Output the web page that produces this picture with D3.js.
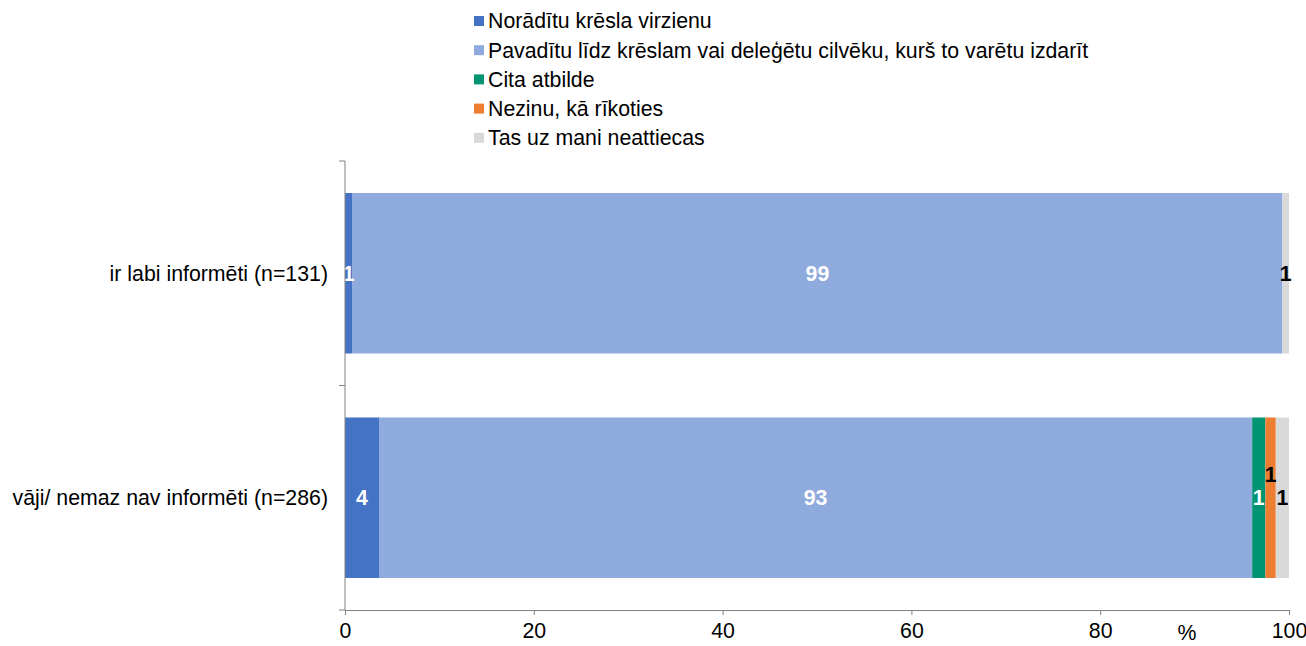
<!DOCTYPE html>
<html>
<head>
<meta charset="utf-8">
<script src="https://cdn.jsdelivr.net/npm/d3@7"></script>
<style>
  body { margin: 0; background: #fff; }
  svg { font-family: "Liberation Sans", Arial, sans-serif; }
</style>
</head>
<body>
<script>
const width = 1306;
const height = 646;

// data
const groups = ["ir labi informēti (n=131)", "vāji/ nemaz nav informēti (n=286)"];
const seriesNames = [
  "Norādītu krēsla virzienu",
  "Pavadītu līdz krēslam vai deleģētu cilvēku, kurš to varētu izdarīt",
  "Cita atbilde",
  "Nezinu, kā rīkoties",
  "Tas uz mani neattiecas"
];
const seriesColors = ["#4472c4", "#8faadc", "#009473", "#ed7d31", "#d9d9d9"];
const labelColors = ["#fff", "#fff", "#fff", "#000", "#000"];
const noraditu = [0.8, 3.6];
const pavaditu = [98.5, 92.5];
const cita = [0, 1.4];
const nezinu = [0, 1.1];
const neattiecas = [0.7, 1.4];
const xTicks = [0, 20, 40, 60, 80, 100];

const seriesValues = [noraditu, pavaditu, cita, nezinu, neattiecas];

const fs = 21.3;
const margin = {top: 161, left: 345, right: 17, bottom: 36};

const svg = d3.select("body").append("svg")
  .attr("width", width).attr("height", height);

const x = d3.scaleLinear().domain([0, 100]).range([margin.left, width - margin.right]);
const y = d3.scaleBand().domain(groups).range([margin.top, height - margin.bottom]).paddingInner(0.285).paddingOuter(0.1425);

// stacked rows
const rows = groups.map((g, i) => {
  const r = {group: g, idx: i};
  seriesNames.forEach((s, j) => { r[s] = seriesValues[j][i]; });
  return r;
});
const stacked = d3.stack().keys(seriesNames)(rows);

const layers = svg.append("g").selectAll("g").data(stacked).join("g")
  .attr("fill", (d, i) => seriesColors[i]);

layers.selectAll("rect").data(d => d).join("rect")
  .attr("x", d => x(d[0]))
  .attr("y", d => y(d.data.group))
  .attr("width", d => x(d[1]) - x(d[0]))
  .attr("height", y.bandwidth());

// value labels
stacked.forEach((layer, j) => {
  layer.forEach(d => {
    const v = seriesValues[j][d.data.idx];
    if (v <= 0) return;
    let cy = y(d.data.group) + y.bandwidth() / 2;
    if (j === 3) cy -= 23;
    svg.append("text")
      .attr("x", (x(d[0]) + x(d[1])) / 2)
      .attr("y", cy)
      .attr("dy", "0.35em")
      .attr("text-anchor", "middle")
      .attr("font-size", fs)
      .attr("font-weight", "bold")
      .attr("fill", labelColors[j])
      .text(Math.round(v));
  });
});

// axes
const xAxis = svg.append("g")
  .attr("transform", `translate(0,${height - margin.bottom})`)
  .call(d3.axisBottom(x).tickValues(xTicks).tickSize(5).tickSizeOuter(5).tickPadding(8));
xAxis.selectAll("text").attr("font-size", fs).attr("fill", "#000").attr("font-family", "Liberation Sans, Arial, sans-serif");
xAxis.selectAll("path, line").attr("stroke", "#808080");

const yAxis = svg.append("g")
  .attr("transform", `translate(${margin.left},0)`);
yAxis.append("line")
  .attr("x1", 0).attr("x2", 0)
  .attr("y1", margin.top).attr("y2", height - margin.bottom)
  .attr("stroke", "#808080");
const yEdges = [margin.top, (margin.top + height - margin.bottom) / 2, height - margin.bottom];
yAxis.selectAll(".tk").data(yEdges).join("line")
  .attr("x1", -6).attr("x2", 0)
  .attr("y1", d => d).attr("y2", d => d)
  .attr("stroke", "#808080");
yAxis.selectAll(".lbl").data(groups).join("text")
  .attr("x", -17)
  .attr("y", d => y(d) + y.bandwidth() / 2)
  .attr("dy", "0.35em")
  .attr("text-anchor", "end")
  .attr("font-size", fs)
  .text(d => d);

svg.append("text")
  .attr("x", 1187).attr("y", 633)
  .attr("dy", "0.35em")
  .attr("text-anchor", "middle")
  .attr("font-size", fs)
  .text("%");

// legend
const legend = svg.append("g").attr("transform", "translate(474,21)");
const li = legend.selectAll("g").data(seriesNames).join("g")
  .attr("transform", (d, i) => `translate(0,${i * 29.2})`);
li.append("rect")
  .attr("x", 0).attr("y", -5).attr("width", 10).attr("height", 10)
  .attr("fill", (d, i) => seriesColors[i]);
li.append("text")
  .attr("x", 14).attr("dy", "0.35em")
  .attr("font-size", fs)
  .text(d => d);
</script>
</body>
</html>
